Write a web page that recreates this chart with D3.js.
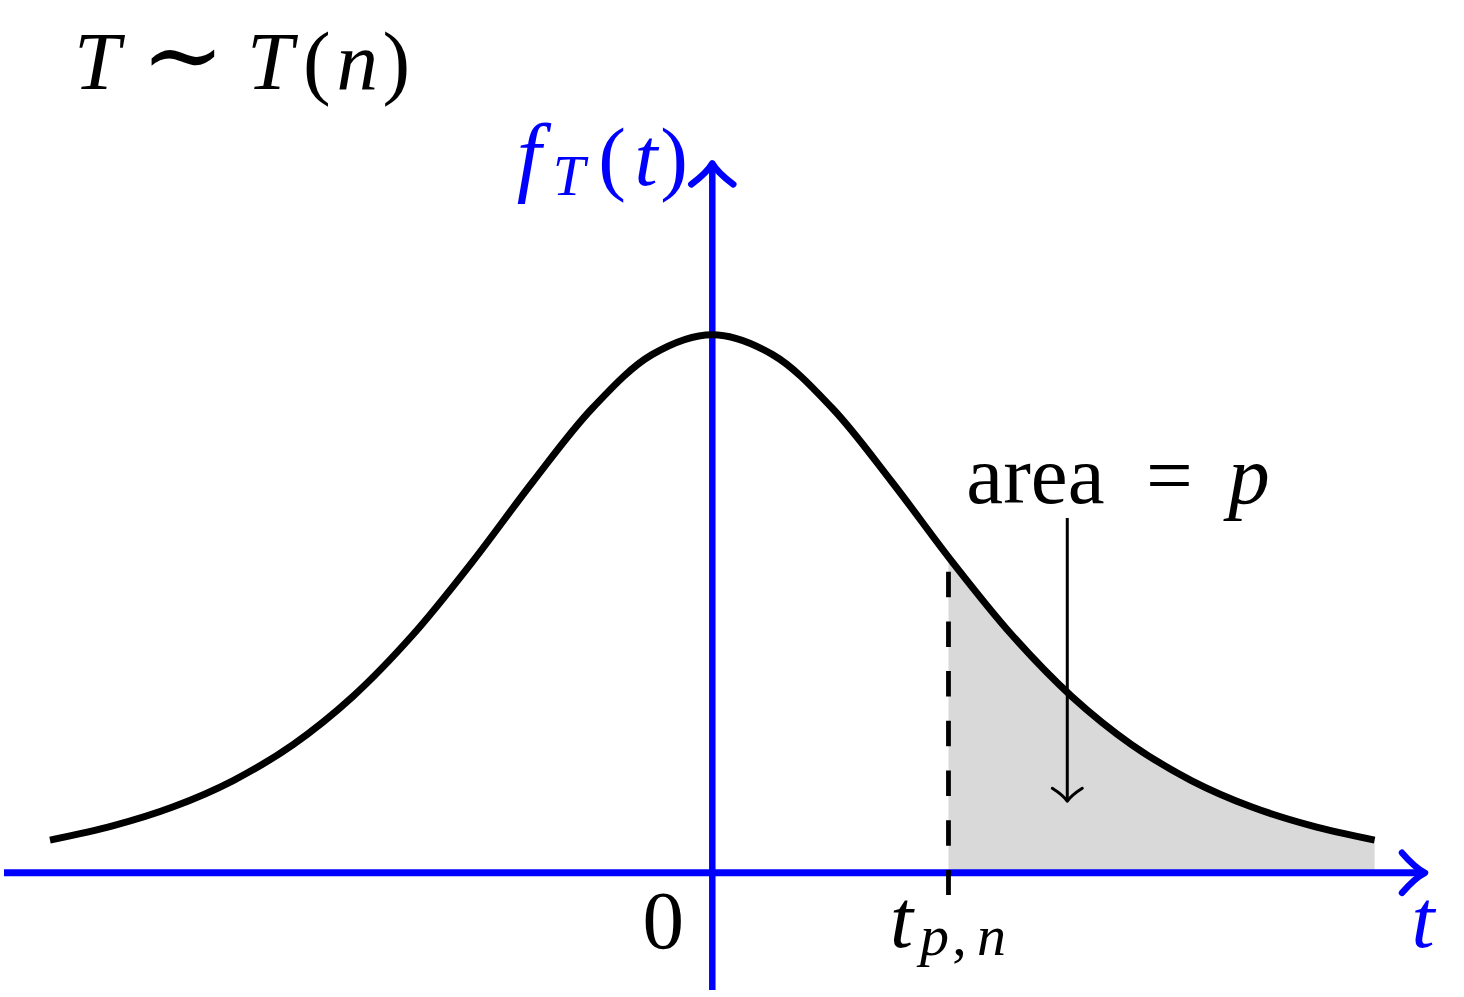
<!DOCTYPE html>
<html>
<head>
<meta charset="utf-8">
<script src="https://cdn.jsdelivr.net/npm/d3@7"></script>
<style>
  html, body { margin: 0; padding: 0; background: #ffffff; }
  svg { display: block; }
  text { font-family: "Liberation Serif", "DejaVu Serif", serif; }
</style>
</head>
<body>
<svg id="chart" width="1464" height="997"></svg>
<script>
// ---- data (Student t density, n = 5 shape) ----
const tGrid = [-2.765, -2.5, -2.25, -2, -1.75, -1.5, -1.25, -1, -0.75, -0.5, -0.25, 0,
               0.25, 0.5, 0.75, 1, 1.25, 1.5, 1.75, 2, 2.25, 2.5, 2.765];
const density = [0.0231, 0.0333, 0.0466, 0.0651, 0.0905, 0.1245, 0.1679, 0.2197, 0.2757, 0.3279, 0.3657, 0.3796,
                 0.3657, 0.3279, 0.2757, 0.2197, 0.1679, 0.1245, 0.0905, 0.0651, 0.0466, 0.0333, 0.0231];
const tCritical = 0.986;          // position of t_{p,n}
const dashTop = 0.2124;           // top of dashed marker (density units)
const dashBottom = -0.0157;       // bottom of dashed marker
const annotationT = 1.482;        // x of the "area = p" arrow
const annotationFrom = 0.2503;    // arrow start (density units)
const annotationTo = 0.0505;      // arrow tip (density units)

const data = tGrid.map((t, i) => ({ t, f: density[i] }));

const svg = d3.select("#chart");
const W = 1464, H = 997;
svg.append("rect").attr("width", W).attr("height", H).attr("fill", "#fff");

const x = d3.scaleLinear().domain([-2.765, 2.765]).range([50, 1374.6]);
const y = d3.scaleLinear().domain([0, 0.3796]).range([872.8, 334.7]);

const BLUE = "#0000ff";

// ---- shaded tail area ----
svg.append("clipPath").attr("id", "tailClip")
  .append("rect")
  .attr("x", x(tCritical)).attr("y", 0)
  .attr("width", W - x(tCritical)).attr("height", H);

const area = d3.area()
  .x(d => x(d.t)).y0(y(0)).y1(d => y(d.f))
  .curve(d3.curveCatmullRom.alpha(0.5));

svg.append("path").datum(data)
  .attr("d", area)
  .attr("fill", "#d9d9d9")
  .attr("clip-path", "url(#tailClip)");

// ---- axes ----
const x0 = x(0), yAxis0 = y(0);
const xTip = 1425, yTip = 163.3;
svg.append("line")
  .attr("x1", 4).attr("x2", xTip - 2)
  .attr("y1", yAxis0).attr("y2", yAxis0)
  .attr("stroke", BLUE).attr("stroke-width", 7);
svg.append("line")
  .attr("x1", x0).attr("x2", x0)
  .attr("y1", 990).attr("y2", yTip + 2)
  .attr("stroke", BLUE).attr("stroke-width", 6.5);

// arrowheads (curved barbs)
svg.append("path")
  .attr("d", `M${xTip - 23},${yAxis0 - 20} Q${xTip - 10},${yAxis0 - 5} ${xTip},${yAxis0} Q${xTip - 10},${yAxis0 + 5} ${xTip - 23},${yAxis0 + 20}`)
  .attr("fill", "none").attr("stroke", BLUE).attr("stroke-width", 6.5)
  .attr("stroke-linecap", "round").attr("stroke-linejoin", "round");
svg.append("path")
  .attr("d", `M${x0 - 21},${yTip + 21} Q${x0 - 5},${yTip + 9} ${x0},${yTip} Q${x0 + 5},${yTip + 9} ${x0 + 21},${yTip + 21}`)
  .attr("fill", "none").attr("stroke", BLUE).attr("stroke-width", 6.5)
  .attr("stroke-linecap", "round").attr("stroke-linejoin", "round");

// ---- dashed marker at t_{p,n} ----
svg.append("line")
  .attr("x1", x(tCritical)).attr("x2", x(tCritical))
  .attr("y1", y(dashTop)).attr("y2", y(dashBottom))
  .attr("stroke", "#000").attr("stroke-width", 4.8)
  .attr("stroke-dasharray", "25.5,24.2");

// ---- density curve ----
const line = d3.line()
  .x(d => x(d.t)).y(d => y(d.f))
  .curve(d3.curveCatmullRom.alpha(0.5));
svg.append("path").datum(data)
  .attr("d", line)
  .attr("fill", "none").attr("stroke", "#000").attr("stroke-width", 7)
  .attr("stroke-linejoin", "round");

// ---- annotation arrow ----
const ax = x(annotationT), ay1 = y(annotationFrom), ay2 = y(annotationTo);
svg.append("line")
  .attr("x1", ax).attr("x2", ax).attr("y1", ay1).attr("y2", ay2)
  .attr("stroke", "#000").attr("stroke-width", 3);
svg.append("path")
  .attr("d", `M${ax - 15},${ay2 - 13} Q${ax - 4},${ay2 - 6} ${ax},${ay2} Q${ax + 4},${ay2 - 6} ${ax + 15},${ay2 - 13}`)
  .attr("fill", "none").attr("stroke", "#000").attr("stroke-width", 3)
  .attr("stroke-linecap", "round").attr("stroke-linejoin", "round");

// ---- text ----
const MAIN = 83, SUB = 58;
function glyph(txt, cx, by, opts = {}) {
  return svg.append("text")
    .attr("x", cx).attr("y", by)
    .attr("text-anchor", "middle")
    .attr("font-size", opts.size || MAIN)
    .attr("font-style", opts.italic ? "italic" : "normal")
    .attr("fill", opts.color || "#000")
    .attr("font-family", opts.family || null)
    .text(txt);
}

// T ~ T(n)
glyph("T", 97, 89.3, { italic: true });
glyph("\u223C", 183, 89.3, { family: "'DejaVu Serif', 'Liberation Serif', serif", size: 100 });
glyph("T", 270, 89.3, { italic: true });
glyph("(", 316.8, 89.3);
glyph("n", 357.2, 89.3, { italic: true });
glyph(")", 396.4, 89.3);

// f_T(t) (blue, y-axis label)
glyph("f", 529, 185, { italic: true, color: BLUE, size: 88 });
glyph("T", 569, 195, { italic: true, color: BLUE, size: SUB });
glyph("(", 612, 185, { color: BLUE });
glyph("t", 646, 185, { italic: true, color: BLUE });
glyph(")", 674, 185, { color: BLUE });

// t (blue, x-axis label)
glyph("t", 1423, 946.7, { italic: true, color: BLUE });

// 0 tick label
glyph("0", x0 - 49, 948.3);

// t_{p,n}
const xc = x(tCritical);
glyph("t", xc - 47, 947.3, { italic: true });
glyph("p", xc - 14, 955, { italic: true, size: SUB });
glyph(",", xc + 11, 955, { size: SUB });
glyph("n", xc + 43, 955, { italic: true, size: SUB });

// area = p
glyph("area", 1035.4, 502.8);
glyph("=", 1169.5, 502.8);
glyph("p", 1249, 502.8, { italic: true });
</script>
</body>
</html>
